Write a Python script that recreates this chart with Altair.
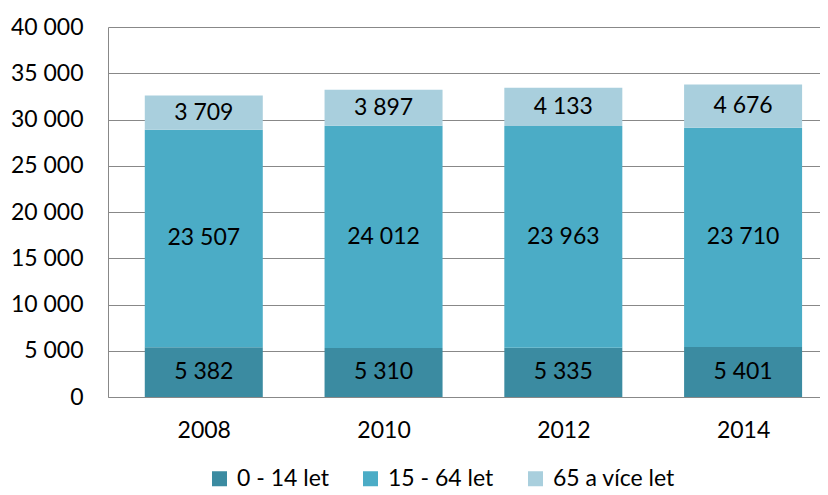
import altair as alt
import pandas as pd

years = [2008, 2010, 2012, 2014]
groups = ["0 - 14 let", "15 - 64 let", "65 a více let"]
young = [5382, 5310, 5335, 5401]
working = [23507, 24012, 23963, 23710]
old = [3709, 3897, 4133, 4676]
colors = ["#3B8BA1", "#4BACC6", "#A9CFDD"]
y_ticks = [0, 5000, 10000, 15000, 20000, 25000, 30000, 35000, 40000]

rows = []
for i, y in enumerate(years):
    for k, (g, vals) in enumerate(zip(groups, [young, working, old])):
        v = vals[i]
        rows.append({"year": y, "group": g, "order": k, "value": v,
                     "label": f"{v:,}".replace(",", " ")})
df = pd.DataFrame(rows)

FONT = "Lato"

base = alt.Chart(df).transform_stack(
    stack="value", groupby=["year"], as_=["v0", "v1"],
    sort=[alt.SortField("order", order="ascending")]
).transform_calculate(mid="(datum.v0 + datum.v1) / 2")

xscale = alt.Scale(domain=[2006.99, 2014.80], nice=False, zero=False)

bars = base.mark_bar(size=118).encode(
    x=alt.X("year:Q", scale=xscale,
            axis=alt.Axis(title=None, values=years, format="d", labelAngle=0,
                          ticks=False, tickSize=0, labelPadding=22,
                          labelFontSize=23, labelFont=FONT, labelColor="#000000",
                          domainColor="#888888", domainWidth=1, grid=False)),
    y=alt.Y("v0:Q", scale=alt.Scale(domain=[0, 40000], nice=False),
            axis=alt.Axis(title=None, values=y_ticks, ticks=False, tickSize=0,
                          labelPadding=25, labelFontSize=23, labelFont=FONT,
                          labelColor="#000000",
                          labelExpr="replace(format(datum.value, ','), ',', ' ')",
                          grid=True, gridColor="#888888", gridWidth=1,
                          domainColor="#888888", domainWidth=1)),
    y2="v1:Q",
    color=alt.Color("group:N", sort=groups,
                    scale=alt.Scale(domain=groups, range=colors),
                    legend=alt.Legend(title=None, orient="none", legendX=100, legendY=440,
                                      direction="horizontal", symbolType="square",
                                      symbolSize=225, symbolStrokeWidth=0,
                                      labelFontSize=23, labelFont=FONT,
                                      labelColor="#000000", labelOffset=6,
                                      columnPadding=30, padding=0)),
    order=alt.Order("order:Q"),
)

texts = base.mark_text(fontSize=23, font=FONT, color="#000000", baseline="middle").encode(
    x=alt.X("year:Q", scale=xscale),
    y=alt.Y("mid:Q"),
    text="label:N",
)

chart = alt.layer(bars, texts).properties(
    width=712, height=370,
    autosize=alt.AutoSizeParams(type="none"),
    padding={"left": 100, "top": 19, "right": 0, "bottom": 96},
).configure_view(stroke=None)

chart.save("out.html", embed_options={"renderer": "svg", "actions": False})
